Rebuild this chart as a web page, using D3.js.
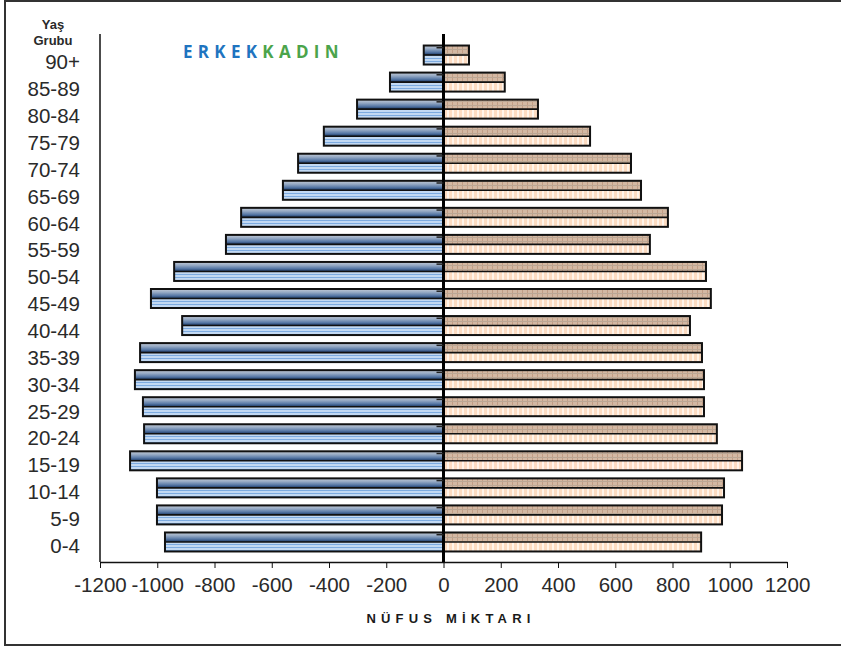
<!DOCTYPE html>
<html lang="tr">
<head>
  <meta charset="utf-8" />
  <title>Nüfus piramidi</title>
  <script src="https://cdn.jsdelivr.net/npm/d3@7/dist/d3.min.js"></script>
  <style>
    body { margin: 0; background: #fff; font-family: "Liberation Sans", Arial, sans-serif; }
    svg text { fill: #2a2a2a; }
  </style>
</head>
<body>
  <div id="graphic"></div>

  <script>
    // age groups, bottom to top
    var ageGroups = ['0-4', '5-9', '10-14', '15-19', '20-24', '25-29', '30-34', '35-39', '40-44',
      '45-49', '50-54', '55-59', '60-64', '65-69', '70-74', '75-79', '80-84', '85-89', '90+'];
    var erkek = [-973, -1001, -1001, -1095, -1046, -1050, -1078, -1060, -913,
      -1022, -941, -760, -707, -561, -508, -418, -302, -187, -69];
    var kadin = [900, 973, 980, 1043, 955, 910, 910, 903, 861,
      934, 917, 721, 784, 690, 655, 512, 330, 214, 89];
    var xTicks = [-1200, -1000, -800, -600, -400, -200, 0, 200, 400, 600, 800, 1000, 1200];

    var width = 841, height = 648;
    var plot = { left: 100, right: 787, top: 34, bottom: 562 };

    var svg = d3.select('#graphic').append('svg')
      .attr('width', width)
      .attr('height', height);

    var defs = svg.append('defs');

    // men, upper half: shaded blue
    var g1 = defs.append('linearGradient').attr('id', 'menTop')
      .attr('x1', 0).attr('y1', 0).attr('x2', 0).attr('y2', 1);
    [['0%', '#c3cbd6'], ['35%', '#95a9c4'], ['70%', '#5677a5'], ['90%', '#2c4b78'], ['100%', '#142a4a']]
      .forEach(function(s) { g1.append('stop').attr('offset', s[0]).attr('stop-color', s[1]); });

    // men, lower half: light blue stripes
    var p1 = defs.append('pattern').attr('id', 'menBottom')
      .attr('patternUnits', 'userSpaceOnUse').attr('width', 6).attr('height', 3);
    p1.append('rect').attr('width', 6).attr('height', 3).attr('fill', '#c2d9f3');
    p1.append('rect').attr('y', 1).attr('width', 6).attr('height', 1).attr('fill', '#7dabe0');

    // women, upper half: tan grid
    var p2 = defs.append('pattern').attr('id', 'womenTop')
      .attr('patternUnits', 'userSpaceOnUse').attr('width', 5).attr('height', 4);
    p2.append('rect').attr('width', 5).attr('height', 4).attr('fill', '#d3b8a3');
    p2.append('rect').attr('x', 2).attr('width', 1).attr('height', 4).attr('fill', '#c29e86');
    p2.append('rect').attr('y', 1).attr('width', 5).attr('height', 1).attr('fill', '#bba795');

    // women, lower half: peach with light verticals
    var p3 = defs.append('pattern').attr('id', 'womenBottom')
      .attr('patternUnits', 'userSpaceOnUse').attr('width', 5).attr('height', 4);
    p3.append('rect').attr('width', 5).attr('height', 4).attr('fill', '#fddcc2');
    p3.append('rect').attr('x', 2).attr('width', 2).attr('height', 4).attr('fill', '#fff4ea');

    // outer frame
    svg.append('rect')
      .attr('x', 5).attr('y', 1)
      .attr('width', 850).attr('height', 644)
      .attr('fill', 'none')
      .attr('stroke', '#333')
      .attr('stroke-width', 2);

    var x = d3.scaleLinear()
      .domain([-1200, 1200])
      .range([plot.left, plot.right]);

    var y = d3.scaleBand()
      .domain(ageGroups)
      .range([555.5, 41.5]);

    // category labels sit on their own slightly different spacing
    var yLabel = d3.scalePoint()
      .domain(ageGroups)
      .range([545.5, 62]);

    var barH = 19;

    var rows = ageGroups.map(function(a, i) {
      return { age: a, m: erkek[i], f: kadin[i] };
    });

    // plot area axes
    svg.append('line')
      .attr('x1', plot.left).attr('x2', plot.left)
      .attr('y1', plot.top).attr('y2', plot.bottom)
      .attr('stroke', '#111').attr('stroke-width', 1.5);

    var xAxis = d3.axisBottom(x)
      .tickValues(xTicks)
      .tickFormat(function(d) { return String(d); })
      .tickSize(6)
      .tickSizeOuter(0);

    var gx = svg.append('g')
      .attr('transform', 'translate(0,' + plot.bottom + ')')
      .call(xAxis);
    gx.select('.domain').attr('stroke', '#111').attr('stroke-width', 1.5);
    gx.selectAll('.tick line').attr('stroke', '#111');
    gx.selectAll('.tick text')
      .attr('dy', '1.02em')
      .style('font-size', '20.5px')
      .style('font-family', '"Liberation Sans", Arial, sans-serif');

    // bars
    function drawBars(key, topFill, bottomFill) {
      var g = svg.append('g');
      var bar = g.selectAll('g').data(rows).enter().append('g');
      function bx(d) { return Math.min(x(d[key]), x(0)); }
      function bw(d) { return Math.abs(x(d[key]) - x(0)); }
      function cy(d) { return y(d.age) + y.bandwidth() / 2; }
      bar.append('rect')
        .attr('x', bx).attr('width', bw)
        .attr('y', function(d) { return cy(d) - barH / 2; })
        .attr('height', barH / 2)
        .attr('fill', topFill);
      bar.append('rect')
        .attr('x', bx).attr('width', bw)
        .attr('y', cy)
        .attr('height', barH / 2)
        .attr('fill', bottomFill);
      bar.append('rect')
        .attr('x', bx).attr('width', bw)
        .attr('y', function(d) { return cy(d) - barH / 2; })
        .attr('height', barH)
        .attr('fill', 'none')
        .attr('stroke', '#111')
        .attr('stroke-width', 2);
      bar.append('line')
        .attr('x1', bx).attr('x2', function(d) { return bx(d) + bw(d); })
        .attr('y1', cy).attr('y2', cy)
        .attr('stroke', '#111')
        .attr('stroke-width', 1.6);
    }
    drawBars('m', 'url(#menTop)', 'url(#menBottom)');
    drawBars('f', 'url(#womenTop)', 'url(#womenBottom)');

    // centre axis with its small ticks
    svg.append('line')
      .attr('x1', x(0)).attr('x2', x(0))
      .attr('y1', plot.top).attr('y2', plot.bottom)
      .attr('stroke', '#000').attr('stroke-width', 3);
    svg.append('g').selectAll('line')
      .data(ageGroups).enter().append('line')
      .attr('x1', x(0) - 7).attr('x2', x(0))
      .attr('y1', function(d) { return y(d) + y.bandwidth() / 2 - 7.3; })
      .attr('y2', function(d) { return y(d) + y.bandwidth() / 2 - 7.3; })
      .attr('stroke', '#222').attr('stroke-width', 1.5);

    // age labels
    svg.append('g').selectAll('text')
      .data(ageGroups).enter().append('text')
      .attr('x', 80)
      .attr('y', function(d) { return yLabel(d); })
      .attr('dy', '0.36em')
      .attr('text-anchor', 'end')
      .style('font-size', '20.5px')
      .text(function(d) { return d; });

    // axis titles
    svg.append('text')
      .attr('x', 53).attr('y', 29)
      .attr('text-anchor', 'middle')
      .style('font-size', '13px').style('font-weight', 'bold')
      .text('Yaş');
    svg.append('text')
      .attr('x', 53).attr('y', 45)
      .attr('text-anchor', 'middle')
      .style('font-size', '13px').style('font-weight', 'bold')
      .text('Grubu');

    svg.append('text')
      .attr('x', 451).attr('y', 623)
      .attr('text-anchor', 'middle')
      .style('font-size', '13px').style('font-weight', 'bold')
      .style('letter-spacing', '5.2px')
      .style('fill', '#1a1a1a')
      .text('NÜFUS MİKTARI');

    // legend words
    var leg = svg.append('text')
      .attr('x', 183).attr('y', 58)
      .style('font-size', '17px').style('font-weight', 'bold')
      .style('font-family', '"Open Sans", sans-serif')
      .style('letter-spacing', '5.3px');
    leg.append('tspan').style('fill', '#1f74c0').text('ERKEK');
    leg.append('tspan').style('fill', '#4ba44b').text('KADIN');
  </script>
</body>
</html>
